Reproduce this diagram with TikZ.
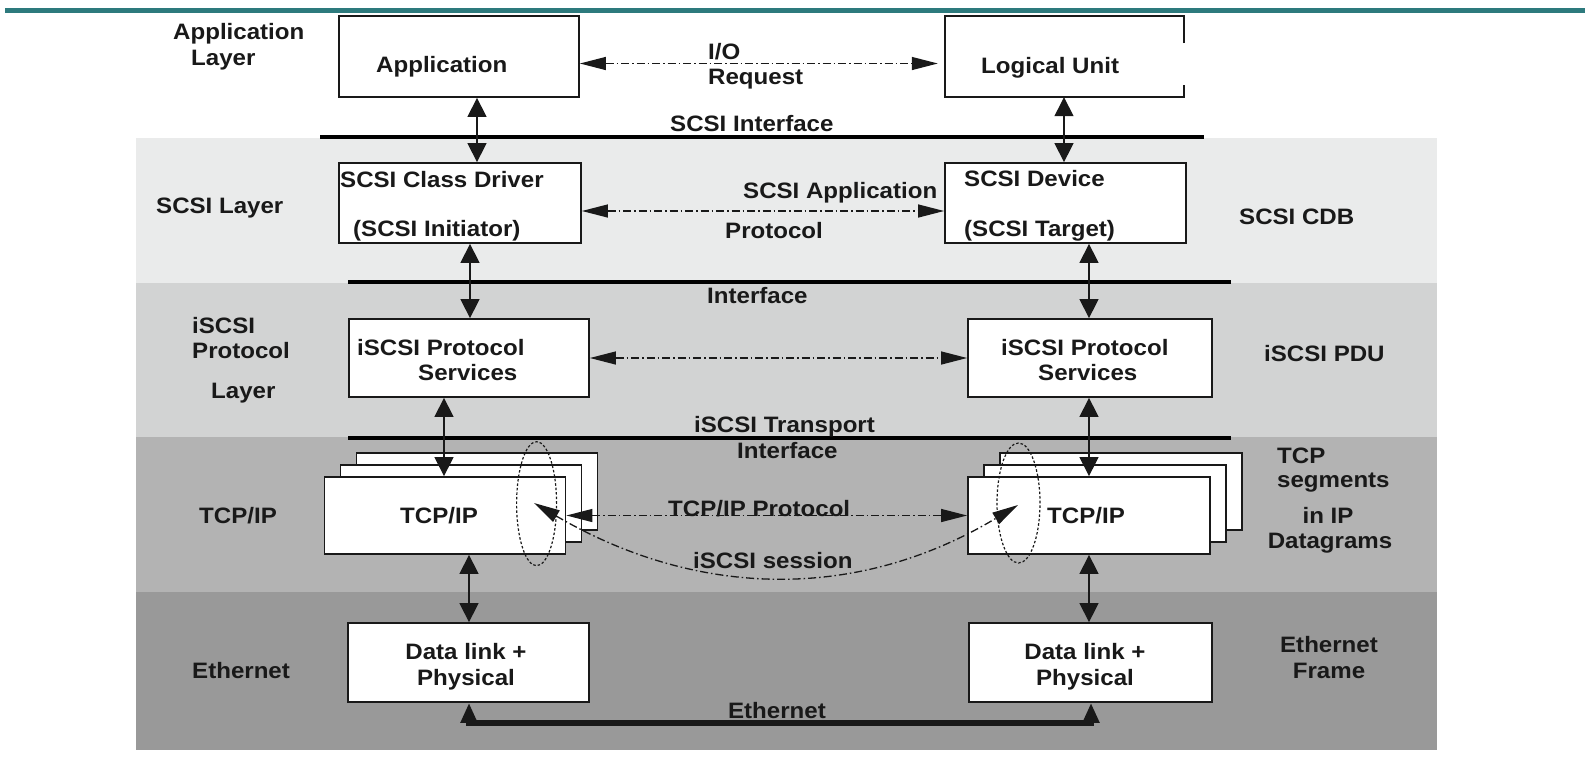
\documentclass[tikz,border=0pt]{standalone}
\usepackage{fontspec}
\newfontfamily\lblfont{Liberation Sans Bold}[FakeStretch=1.08]
\usetikzlibrary{arrows.meta,shapes.geometric}

\definecolor{barteal}{RGB}{45,122,125}
\definecolor{bandA}{RGB}{234,235,235}
\definecolor{bandB}{RGB}{210,211,211}
\definecolor{bandC}{RGB}{179,179,179}
\definecolor{bandD}{RGB}{153,153,153}
\definecolor{ink}{RGB}{25,25,25}

\begin{document}
\begin{tikzpicture}[x=1pt,y=-1pt,
  lbl/.style={font=\lblfont\fontsize{22.3}{25.5}\selectfont, text=ink, inner sep=0pt, anchor=base west},
  clbl/.style={lbl, anchor=base},
  box/.style={draw=ink, line width=1.8pt, fill=white, inner sep=0pt},
  vtip/.style={Triangle[length=19pt,width=19pt]},
  htip/.style={Triangle[length=26pt,width=13pt]},
  vlink/.style={draw=ink, line width=1.4pt, {Triangle[length=19pt,width=19pt]}-{Triangle[length=19pt,width=19pt]}},
  dlink/.style={draw=ink, line width=1.3pt, dash pattern=on 8pt off 3pt on 1.5pt off 3pt,
     {Triangle[length=26pt,width=13pt]}-{Triangle[length=26pt,width=13pt]}},
  ifline/.style={draw=black, line width=4pt},
  oval/.style={ellipse, draw=ink, line width=1.2pt, dash pattern=on 2.5pt off 2pt, inner sep=0pt}
]
\useasboundingbox (0,0) rectangle (1585,756);
\fill[white] (0,0) rectangle (1585,756);

% header rule
\fill[barteal] (5,8) rectangle (1585,13);

% layer bands
\fill[bandA] (136,138) rectangle (1437,283);
\fill[bandB] (136,283) rectangle (1437,437);
\fill[bandC] (136,437) rectangle (1437,592);
\fill[bandD] (136,592) rectangle (1437,750);

% interface rules
\coordinate (ifAa) at (320,137);   \coordinate (ifAb) at (1204,137);
\coordinate (ifBa) at (348,282);   \coordinate (ifBb) at (1231,282);
\coordinate (ifCa) at (348,437.5); \coordinate (ifCb) at (1231,437.5);
\draw[ifline] (ifAa) -- (ifAb);
\draw[ifline] (ifBa) -- (ifBb);
\draw[ifline] (ifCa) -- (ifCb);

% boxes
\node[box, minimum width=240pt, minimum height=81pt] (app) at (459,56.5) {};
\node[fill=white, inner sep=0pt, minimum width=239pt, minimum height=81pt] (lu) at (1064.5,56.5) {};
\draw[ink, line width=1.8pt] (lu.east |- 0,43) -- (lu.north east) -- (lu.north west)
   -- (lu.south west) -- (lu.south east) -- (lu.east |- 0,85);
\node[box, minimum width=242pt, minimum height=80pt] (scd) at (460,203) {};
\node[box, minimum width=241pt, minimum height=80pt] (sdv) at (1065.5,203) {};
\node[box, minimum width=240pt, minimum height=78pt] (ipsL) at (469,358) {};
\node[box, minimum width=244pt, minimum height=78pt] (ipsR) at (1090,358) {};

% TCP/IP stacks (two sheets behind each front box)
\node[box, minimum width=241pt, minimum height=77pt] (tcpL3) at (477,491.5) {};
\node[box, minimum width=241pt, minimum height=77pt] (tcpL2) at (461,503.5) {};
\node[box, minimum width=241pt, minimum height=77pt] (tcpL) at (445,515.5) {};
\node[box, minimum width=242pt, minimum height=77pt] (tcpR3) at (1121,491.5) {};
\node[box, minimum width=242pt, minimum height=77pt] (tcpR2) at (1105,503.5) {};
\node[box, minimum width=242pt, minimum height=77pt] (tcpR) at (1089,515.5) {};

\node[box, minimum width=241pt, minimum height=79pt] (dlL) at (468.5,662.5) {};
\node[box, minimum width=243pt, minimum height=79pt] (dlR) at (1090.5,662.5) {};

% connection ovals
\node[oval, minimum width=40pt, minimum height=124pt] (ovL) at (536.6,503.7) {};
\node[oval, minimum width=43pt, minimum height=120pt] (ovR) at (1018.5,503) {};

% vertical links
\coordinate (xa) at (477,0);  \coordinate (xb) at (470,0);
\coordinate (xc) at (444,0);  \coordinate (xd) at (469,0);
\coordinate (xe) at (1064,0); \coordinate (xf) at (1089,0);
\draw[vlink] (app.south -| xa) -- (scd.north -| xa);
\draw[vlink] (scd.south -| xb) -- (ipsL.north -| xb);
\draw[vlink] (ipsL.south -| xc) -- (tcpL.north -| xc);
\draw[vlink] (tcpL.south -| xd) -- (dlL.north -| xd);
\draw[vlink] (lu.south -| xe) -- (sdv.north -| xe);
\draw[vlink] (sdv.south -| xf) -- (ipsR.north -| xf);
\draw[vlink] (ipsR.south -| xf) -- (tcpR.north -| xf);
\draw[vlink] (tcpR.south -| xf) -- (dlR.north -| xf);

% peer-to-peer links
\coordinate (yio) at (0,63.5);
\coordinate (yap) at (0,211);
\draw[dlink, shorten >=7pt] (app.east |- yio) -- (lu.west |- yio);
\draw[dlink] (scd.east |- yap) -- (sdv.west |- yap);
\draw[dlink] (ipsL.east) -- (ipsR.west);
\draw[dlink] (tcpL.east) -- (tcpR.west);
\coordinate (sessL) at (534,503);
\coordinate (sessR) at (1018,505);
\draw[dlink] (sessL) .. controls (700,600) and (860,600) .. (sessR);

% ethernet link
\coordinate (ethA) at (469,723);
\coordinate (ethB) at (1091,723);
\draw[ink, line width=6pt, line join=miter,
      {Triangle[length=20pt,width=16pt]}-{Triangle[length=20pt,width=16pt]}]
  (dlL.south -| ethA) -- (ethA) -- (ethB) -- (dlR.south -| ethB);

% left-hand layer names
\node[lbl] (tA1) at (173,39) {Application};
\node[lbl] (tA2) at (191,65) {Layer};
\node[lbl] (tB) at (156,213) {SCSI Layer};
\node[lbl] (tC1) at (192,333) {iSCSI};
\node[lbl] (tC2) at (192,358) {Protocol};
\node[lbl] (tC3) at (211,398) {Layer};
\node[lbl] (tD) at (199,523) {TCP/IP};
\node[lbl] (tE) at (192,678) {Ethernet};

% box captions
\node[lbl] (cApp) at (376,72) {Application};
\node[lbl] (cLu) at (981,73) {Logical Unit};
\node[lbl] (cScd1) at (340,187) {SCSI Class Driver};
\node[lbl] (cScd2) at (353,236) {(SCSI Initiator)};
\node[lbl] (cSdv1) at (964,186) {SCSI Device};
\node[lbl] (cSdv2) at (964,236) {(SCSI Target)};
\node[lbl] (cIpL1) at (357,355) {iSCSI Protocol};
\node[lbl] (cIpL2) at (418,380) {Services};
\node[lbl] (cIpR1) at (1001,355) {iSCSI Protocol};
\node[lbl] (cIpR2) at (1038,380) {Services};
\node[lbl] (cTcpL) at (400,523) {TCP/IP};
\node[lbl] (cTcpR) at (1047,523) {TCP/IP};
\node[clbl] (cDlL1) at (466,659) {Data link +};
\node[clbl] (cDlL2) at (466,685) {Physical};
\node[clbl] (cDlR1) at (1085,659) {Data link +};
\node[clbl] (cDlR2) at (1085,685) {Physical};

% link and interface captions
\node[lbl] (mIo1) at (708,59.5) {I/O};
\node[lbl] (mIo2) at (708,84) {Request};
\node[lbl] (mIfA) at (670,131) {SCSI Interface};
\node[lbl] (mAp1) at (743,198) {SCSI Application};
\node[lbl] (mAp2) at (725,238) {Protocol};
\node[lbl] (mIfB) at (707,303) {Interface};
\node[lbl] (mIfC1) at (694,432) {iSCSI Transport};
\node[lbl] (mIfC2) at (737,458) {Interface};
\node[lbl] (mTcp) at (668,516) {TCP/IP Protocol};
\node[lbl] (mSes) at (693,568) {iSCSI session};
\node[clbl] (mEth) at (777,718) {Ethernet};

% right-hand data unit names
\node[lbl] (rB) at (1239,224) {SCSI CDB};
\node[lbl] (rC) at (1264,361) {iSCSI PDU};
\node[lbl] (rD1) at (1277,463) {TCP};
\node[lbl] (rD2) at (1277,487) {segments};
\node[clbl] (rD3) at (1328,523) {in IP};
\node[clbl] (rD4) at (1330,548) {Datagrams};
\node[clbl] (rE1) at (1329,652) {Ethernet};
\node[clbl] (rE2) at (1329,678) {Frame};
\end{tikzpicture}
\end{document}
